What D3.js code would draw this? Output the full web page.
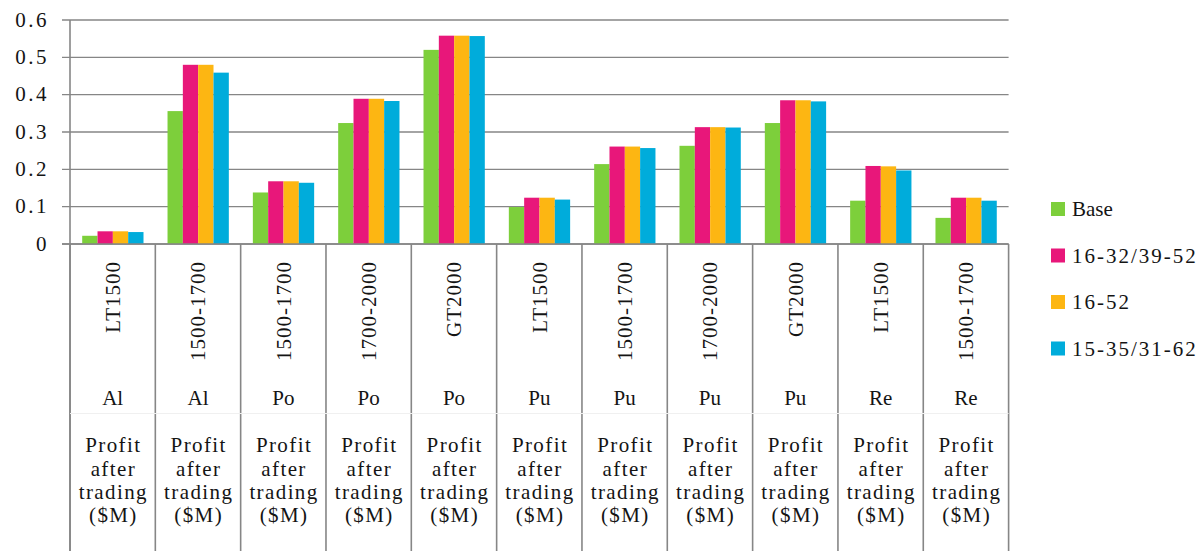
<!DOCTYPE html>
<html>
<head>
<meta charset="utf-8">
<script src="https://cdn.jsdelivr.net/npm/d3@7"></script>
<style>
  html, body { margin: 0; padding: 0; background: #fff; }
  svg { display: block; }
</style>
</head>
<body>
<svg id="chart" width="1201" height="551"></svg>
<script>
// ---- data ----
const sizeLabels = ["LT1500","1500-1700","1500-1700","1700-2000","GT2000","LT1500","1500-1700","1700-2000","GT2000","LT1500","1500-1700"];
const groupLabels = ["Al","Al","Po","Po","Po","Pu","Pu","Pu","Pu","Re","Re"];
const measureLabel = ["Profit","after","trading","($M)"];
const seriesNames = ["Base","16-32/39-52","16-52","15-35/31-62"];
const baseValues   = [0.022, 0.356, 0.138, 0.324, 0.520, 0.099, 0.214, 0.263, 0.324, 0.116, 0.070];
const s1632Values  = [0.034, 0.480, 0.168, 0.389, 0.558, 0.124, 0.261, 0.313, 0.385, 0.209, 0.124];
const s1652Values  = [0.034, 0.480, 0.168, 0.389, 0.558, 0.124, 0.261, 0.313, 0.385, 0.208, 0.124];
const s1535Values  = [0.032, 0.459, 0.164, 0.383, 0.557, 0.119, 0.257, 0.312, 0.382, 0.197, 0.116];
const yTicks = [0, 0.1, 0.2, 0.3, 0.4, 0.5, 0.6];
const colors = ["#7dcf3b", "#e8177a", "#fdb612", "#00acdb"];

const seriesValues = [baseValues, s1632Values, s1652Values, s1535Values];
const idx = d3.range(sizeLabels.length);

const FONT = "'Liberation Serif', 'DejaVu Serif', serif";

const svg = d3.select("#chart").style("font-family", FONT);
const plotLeft = 70, plotRight = 1008.6, plotTop = 20, plotBottom = 244, axisBottom = 551;

const x = d3.scaleBand().domain(idx).range([plotLeft, plotRight]).padding(0);
const xs = d3.scaleBand().domain(d3.range(seriesNames.length)).range([12.2, 73.5]).padding(0);
const y = d3.scaleLinear().domain([0, 0.6]).range([plotBottom, plotTop]);

const gridColor = "#868686";
const textColor = "#141414";

// gridlines + ticks
svg.append("g").selectAll("line").data(yTicks).join("line")
  .attr("x1", plotLeft - 8).attr("x2", plotRight)
  .attr("y1", d => y(d)).attr("y2", d => y(d))
  .attr("stroke", gridColor).attr("stroke-width", 1.4);

// y tick labels
svg.append("g").selectAll("text").data(yTicks).join("text")
  .attr("x", 49).attr("y", d => y(d) + 6.5)
  .attr("text-anchor", "end").attr("fill", textColor)
  .attr("font-family", FONT)
  .style("font-size", "21px").style("letter-spacing", "2.5px")
  .text(d => d === 0 ? "0" : d3.format(".1f")(d));

// bars
const groups = svg.append("g").selectAll("g").data(idx).join("g")
  .attr("transform", i => `translate(${x(i)},0)`);
groups.selectAll("rect").data(i => seriesValues.map((vals, s) => ({s, v: vals[i]}))).join("rect")
  .attr("x", d => xs(d.s))
  .attr("width", xs.bandwidth())
  .attr("y", d => y(d.v))
  .attr("height", d => y(0) - y(d.v))
  .attr("fill", d => colors[d.s]);

// y axis line
svg.append("line").attr("x1", plotLeft).attr("x2", plotLeft).attr("y1", plotTop).attr("y2", axisBottom)
  .attr("stroke", gridColor).attr("stroke-width", 1.6);

// category separators
const bounds = idx.map(i => x(i)).concat([plotRight]);
svg.append("g").selectAll("line").data(bounds).join("line")
  .attr("x1", d => d).attr("x2", d => d)
  .attr("y1", plotBottom).attr("y2", axisBottom)
  .attr("stroke", gridColor).attr("stroke-width", 1.6);

// faint divider between levels
svg.append("line").attr("x1", plotLeft).attr("x2", plotRight).attr("y1", 413.5).attr("y2", 413.5)
  .attr("stroke", "#f0f0f0").attr("stroke-width", 1);

// x axis line
svg.append("line").attr("x1", plotLeft - 8).attr("x2", plotRight).attr("y1", plotBottom).attr("y2", plotBottom)
  .attr("stroke", gridColor).attr("stroke-width", 1.6);

// category labels
const cats = svg.append("g").selectAll("g").data(idx).join("g")
  .attr("transform", i => `translate(${x(i) + x.bandwidth() / 2},0)`)
  .attr("fill", textColor).attr("font-family", FONT);
cats.append("text")
  .attr("transform", "translate(7.5,261) rotate(-90)")
  .attr("text-anchor", "end")
  .style("font-size", "21px").style("letter-spacing", "1px")
  .text(i => sizeLabels[i]);
cats.append("text")
  .attr("y", 405).attr("text-anchor", "middle")
  .style("font-size", "21px")
  .text(i => groupLabels[i]);
const lineYs = [452, 475.5, 499, 522];
measureLabel.forEach((w, k) => {
  cats.append("text")
    .attr("x", 0.7)
    .attr("y", lineYs[k]).attr("text-anchor", "middle")
    .style("font-size", "21px").style("letter-spacing", "1.4px")
    .text(w);
});

// legend
const leg = svg.append("g").selectAll("g").data(seriesNames).join("g")
  .attr("transform", (d, i) => `translate(1051,${202 + i * 46.5})`);
leg.append("rect").attr("width", 14).attr("height", 14).attr("fill", (d, i) => colors[i]);
leg.append("text").attr("x", 21).attr("y", 14)
  .attr("fill", textColor).attr("font-family", FONT)
  .style("font-size", "21px")
  .style("letter-spacing", (d, i) => i === 0 ? "0px" : "2px")
  .text(d => d);
</script>
</body>
</html>
